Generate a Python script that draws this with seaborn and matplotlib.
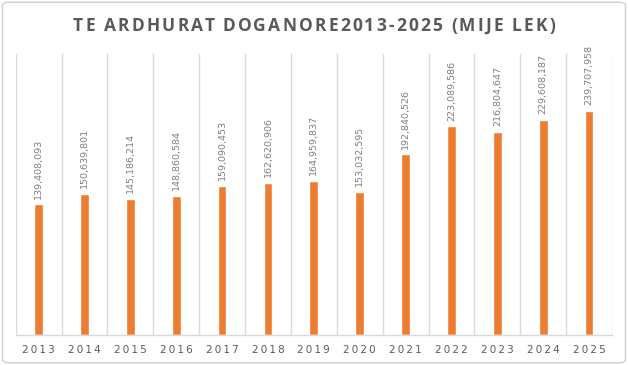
import matplotlib
matplotlib.use("Agg")
import matplotlib.pyplot as plt
import seaborn as sns
import pandas as pd
import numpy as np
from matplotlib.patches import FancyBboxPatch

# data (lek)
years = ["2013", "2014", "2015", "2016", "2017", "2018", "2019",
         "2020", "2021", "2022", "2023", "2024", "2025"]
revenue = [139408093, 150639801, 145186214, 148860584, 159090453, 162620906,
           164959837, 153032595, 192840526, 223089586, 216804647, 229608187,
           239707958]

title = "TE ARDHURAT DOGANORE2013-2025 (MIJE LEK)"
bar_color = "#ED7D31"
text_gray = "#595959"
grid_gray = "#D9D9D9"

df = pd.DataFrame({"year": years, "revenue": revenue})

sns.set_style("white")
plt.rcParams["font.family"] = ["DejaVu Sans"]


def spaced(s, sep="\u2009"):
    # mimic Excel's letter spacing
    return sep.join(s)


fig = plt.figure(figsize=(6.28, 3.65), dpi=100)
ax = fig.add_axes([0.025, 0.082, 0.9495, 0.77])

sns.barplot(data=df, x="year", y="revenue", color=bar_color, width=0.19,
            saturation=1, ax=ax)

ax.set_ylim(0, 300e6)
ax.set_xlim(-0.5, len(years) - 0.5)
ax.set_yticks([])
ax.set_xlabel("")
ax.set_ylabel("")
ax.set_xticks(range(len(years)))
ax.set_xticklabels([spaced(y) for y in years])

# category boundaries as light vertical gridlines
ax.set_xticks(np.arange(-0.5, len(years)), minor=True)
ax.grid(which="minor", axis="x", color=grid_gray, linewidth=1)
ax.grid(which="major", visible=False)
ax.tick_params(which="both", length=0)
ax.tick_params(axis="x", which="major", pad=7, labelsize=7.5,
               labelcolor=text_gray)

for s in ["top", "left", "right"]:
    ax.spines[s].set_visible(False)
ax.spines["bottom"].set_color(grid_gray)
ax.spines["bottom"].set_linewidth(1)

# rotated value labels above each bar
for i, v in enumerate(revenue):
    ax.annotate(f"{v:,}", (i, v), xytext=(0, 4), textcoords="offset points",
                rotation=90, ha="center", va="bottom", fontsize=6.8,
                color="#7F7F7F")

# title with wide letter spacing, placed one character at a time
title_kw = dict(fontsize=12.5, fontweight="bold", color=text_gray,
                family=["Open Sans", "DejaVu Sans"], va="center", ha="left")
renderer = fig.canvas.get_renderer()
W = fig.bbox.width


def text_width(s):
    t = fig.text(0, 0, s + "|", **title_kw)
    bar = fig.text(0, 0, "|", **title_kw)
    w = t.get_window_extent(renderer).width - bar.get_window_extent(renderer).width
    t.remove()
    bar.remove()
    return w


base = text_width(title)
target = 482.0
track = max((target - base) / (len(title) - 1), 0)
x0 = (W - target) / 2
for k, ch in enumerate(title):
    if ch == " ":
        continue
    x = x0 + text_width(title[:k]) + k * track
    fig.text(x / W, 0.93, ch, **title_kw)

# chart border
border = FancyBboxPatch((0.004, 0.006), 0.992, 0.988,
                        boxstyle="round,pad=0,rounding_size=0.01",
                        transform=fig.transFigure, facecolor="none",
                        edgecolor="#D0D0D0", linewidth=1)
fig.patches.append(border)

fig.savefig("out.png", dpi=100)
